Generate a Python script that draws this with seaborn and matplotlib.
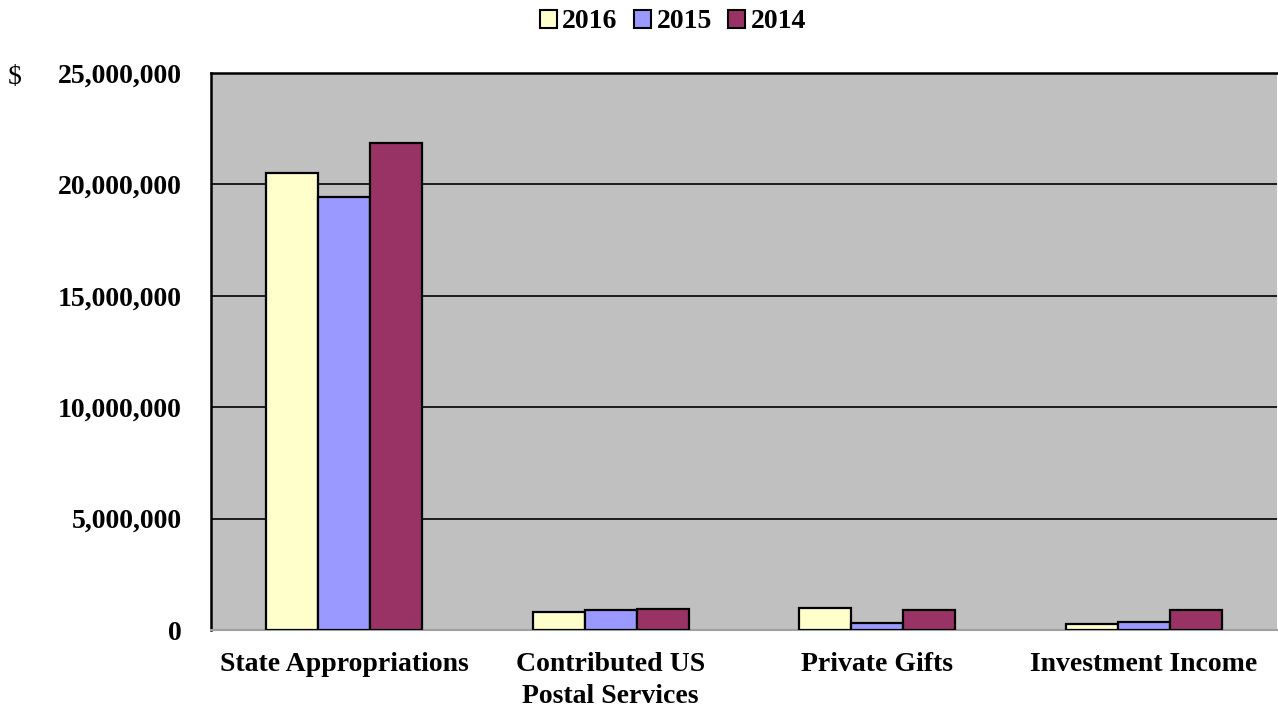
import matplotlib
matplotlib.use("Agg")
import matplotlib.pyplot as plt
import seaborn as sns
import pandas as pd
from matplotlib.patches import Patch

categories = ["State Appropriations", "Contributed US\nPostal Services", "Private Gifts", "Investment Income"]
years = ["2016", "2015", "2014"]
v2016 = [20500000, 820000, 970000, 280000]
v2015 = [19450000, 880000, 320000, 340000]
v2014 = [21850000, 950000, 920000, 880000]
yticks = [0, 5000000, 10000000, 15000000, 20000000, 25000000]
colors = ["#FFFFCC", "#9999FF", "#993366"]

rows = []
for y, vals in zip(years, [v2016, v2015, v2014]):
    for c, v in zip(categories, vals):
        rows.append({"category": c, "year": y, "value": v})
df = pd.DataFrame(rows)

sns.set_theme(style="white")
plt.rcParams['font.family'] = ['Liberation Serif', 'DejaVu Serif']
plt.rcParams['font.weight'] = 'bold'
plt.rcParams['text.color'] = 'black'
plt.rcParams['xtick.color'] = 'black'
plt.rcParams['ytick.color'] = 'black'
plt.rcParams['axes.labelcolor'] = 'black'

FS = 20

fig = plt.figure(figsize=(12.78, 7.07), dpi=100)
ax = fig.add_axes([211/1278, 1-630/707, 1066/1278, 557/707])
ax.set_facecolor("#C0C0C0")

sns.barplot(data=df, x="category", y="value", hue="year", hue_order=years,
            palette=colors, width=0.585, edgecolor="black", linewidth=1.6,
            ax=ax, legend=False, zorder=3, saturation=1)

ax.set_ylim(0, 25000000)
ax.set_yticks(yticks)
ax.set_yticklabels([f"{t:,}" for t in yticks], fontsize=FS, fontweight='bold', color='black')
ax.yaxis.grid(True, color="black", linewidth=1.2, zorder=0)
ax.set_axisbelow(True)
ax.tick_params(axis='y', length=0, pad=21)
ax.tick_params(axis='x', length=0, pad=15.5, labelsize=FS)
for lab in ax.get_xticklabels():
    lab.set_fontweight('bold')
    lab.set_color('black')
    lab.set_linespacing(1.38)
ax.set_xlabel("")
ax.set_ylabel("")

for side in ["left", "top"]:
    ax.spines[side].set_color("black")
    ax.spines[side].set_linewidth(1.8)
ax.spines["right"].set_visible(False)
ax.spines["bottom"].set_color("#A0A0A0")
ax.spines["bottom"].set_linewidth(1.5)

fig.text(8/1278, 1-77/707, "$", fontsize=FS, ha="left", va="center", fontweight='normal', color='black')

handles = [Patch(facecolor=c, edgecolor="black", linewidth=1.5, label=y) for c, y in zip(colors, years)]
fig.legend(handles=handles, loc="center", bbox_to_anchor=(673/1278, 1-22/707), ncol=3,
           frameon=False, prop={'size': FS, 'weight': 'bold'}, handlelength=0.6, handleheight=0.6,
           handletextpad=0.2, columnspacing=0.6, labelcolor='black')

fig.savefig("out.png", dpi=100)
